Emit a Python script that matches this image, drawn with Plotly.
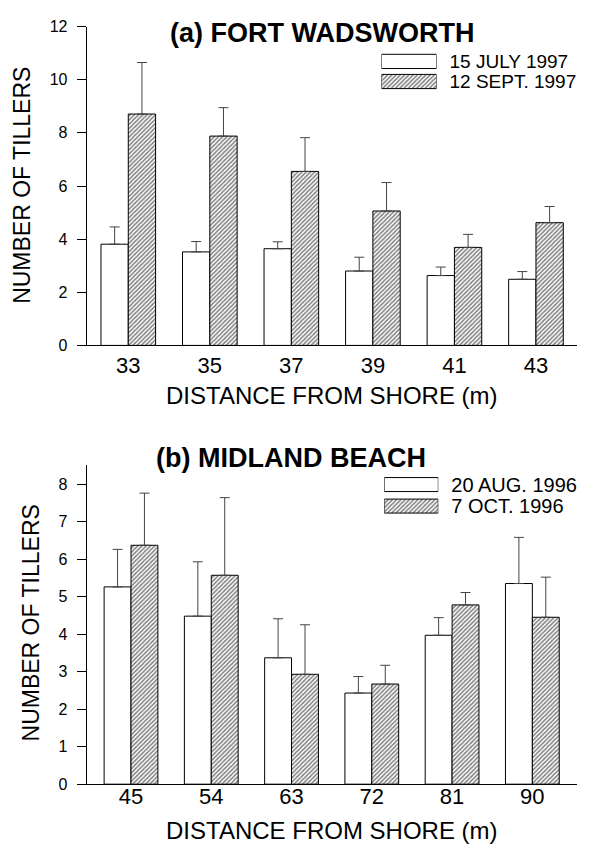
import plotly.graph_objects as go

# ---------------- data ----------------
dist_a = ["33", "35", "37", "39", "41", "43"]
jul_1997 = [3.81, 3.52, 3.64, 2.80, 2.63, 2.49]
jul_1997_upper = [4.46, 3.91, 3.90, 3.32, 2.95, 2.78]
sep_1997 = [8.71, 7.88, 6.55, 5.06, 3.69, 4.62]
sep_1997_upper = [10.65, 8.95, 7.82, 6.13, 4.18, 5.23]

dist_b = ["45", "54", "63", "72", "81", "90"]
aug_1996 = [5.26, 4.48, 3.37, 2.43, 3.97, 5.35]
aug_1996_upper = [6.26, 5.93, 4.41, 2.87, 4.44, 6.58]
oct_1996 = [6.37, 5.57, 2.93, 2.67, 4.78, 4.45]
oct_1996_upper = [7.76, 7.64, 4.25, 3.17, 5.11, 5.52]

legend_a = ["15 JULY 1997", "12 SEPT. 1997"]
legend_b = ["20 AUG. 1996", "7 OCT. 1996"]

yticks_a = [0, 2, 4, 6, 8, 10, 12]
yticks_b = [0, 1, 2, 3, 4, 5, 6, 7, 8]

# ---------------- styling ----------------
W, H = 598, 851
FONT = "Liberation Sans, Arial, sans-serif"

plain = dict(color="white", line=dict(color="black", width=1))
hatched = dict(color="white", line=dict(color="black", width=1),
               pattern=dict(shape="/", fgcolor="black", bgcolor="white",
                            size=3, solidity=0.5))


def err(vals, upper):
    return dict(type="data", symmetric=False,
                array=[u - v for u, v in zip(upper, vals)],
                arrayminus=[0] * len(vals),
                color="#444444", thickness=1, width=5)


def px_x(p):
    return p / W


def px_y(p):
    return 1 - p / H


fig = go.Figure()

# panel (a)
fig.add_trace(go.Bar(x=dist_a, y=jul_1997, marker=plain, name=legend_a[0],
                     error_y=err(jul_1997, jul_1997_upper), xaxis="x", yaxis="y"))
fig.add_trace(go.Bar(x=dist_a, y=sep_1997, marker=hatched, name=legend_a[1],
                     error_y=err(sep_1997, sep_1997_upper), xaxis="x", yaxis="y"))
# panel (b)
fig.add_trace(go.Bar(x=dist_b, y=aug_1996, marker=plain, name=legend_b[0],
                     error_y=err(aug_1996, aug_1996_upper), xaxis="x2", yaxis="y2"))
fig.add_trace(go.Bar(x=dist_b, y=oct_1996, marker=hatched, name=legend_b[1],
                     error_y=err(oct_1996, oct_1996_upper), xaxis="x2", yaxis="y2"))

# legend keys (horizontal bars on small unit axes; tick labels act as legend text)
for labels, xa, ya, bw in [(legend_a, "x3", "y3", 0.707), (legend_b, "x4", "y4", 0.65)]:
    fig.add_trace(go.Bar(y=[labels[0]], x=[1], orientation="h", marker=plain,
                         width=bw, xaxis=xa, yaxis=ya, hoverinfo="skip"))
    fig.add_trace(go.Bar(y=[labels[1]], x=[1], orientation="h", marker=hatched,
                         width=bw, xaxis=xa, yaxis=ya, hoverinfo="skip"))

dom_x = [px_x(86.7), px_x(577.3)]
xcommon = dict(showline=True, linecolor="black", linewidth=1, ticks="",
               showgrid=False, zeroline=False,
               tickfont=dict(size=22, color="black", family=FONT))
ycommon = dict(showline=True, linecolor="black", linewidth=1, ticks="outside",
               ticklen=9, tickcolor="black", showgrid=False, zeroline=False,
               tickfont=dict(size=16, color="black", family=FONT),
               ticklabelstandoff=6)

legx = dict(range=[0, 1], visible=False, fixedrange=True)
legy = dict(showline=False, showgrid=False, zeroline=False, ticks="",
            side="right", autorange="reversed", ticklabelstandoff=12)

fig.update_layout(
    width=W, height=H,
    margin=dict(l=0, r=0, t=0, b=0),
    paper_bgcolor="white", plot_bgcolor="white",
    barmode="group", bargap=0.33, bargroupgap=0,
    showlegend=False,
    font=dict(family=FONT, color="black"),
    xaxis=dict(domain=dom_x, range=[-0.51, 5.507], anchor="y", **xcommon),
    yaxis=dict(domain=[px_y(344.3), px_y(19)], range=[0, 12],
               tickvals=yticks_a, anchor="x", **ycommon),
    xaxis2=dict(domain=dom_x, range=[-0.552, 5.56], anchor="y2",
                ticklabelstandoff=-8, **xcommon),
    yaxis2=dict(domain=[px_y(792), px_y(466.7)], range=[0, 8.5],
                tickvals=yticks_b, anchor="x2", **ycommon),
    xaxis3=dict(domain=[px_x(381.5), px_x(436.5)], anchor="y3", **legx),
    yaxis3=dict(domain=[px_y(85.25), px_y(44.25)], anchor="x3",
                tickmode="array", tickvals=legend_a, ticktext=legend_a,
                tickfont=dict(size=19, color="black", family=FONT), **legy),
    xaxis4=dict(domain=[px_x(384.3), px_x(438.3)], anchor="y4", **legx),
    yaxis4=dict(domain=[px_y(519.2), px_y(475.3)], anchor="x4",
                tickmode="array", tickvals=legend_b, ticktext=legend_b,
                tickfont=dict(size=20, color="black", family=FONT), **legy),
)

ann = []
ann.append(dict(text="<b>(a) FORT WADSWORTH</b>", x=px_x(322), y=px_y(25),
                font=dict(size=27)))
ann.append(dict(text="<b>(b) MIDLAND BEACH</b>", x=px_x(290.5), y=px_y(459),
                font=dict(size=27)))
ann.append(dict(text="NUMBER OF TILLERS", x=px_x(22), y=px_y(181.5),
                textangle=-90, font=dict(size=23)))
ann.append(dict(text="NUMBER OF TILLERS", x=px_x(31), y=px_y(628),
                textangle=-90, font=dict(size=23)))
ann.append(dict(text="DISTANCE FROM SHORE (m)", x=px_x(331.5), y=px_y(395),
                font=dict(size=24)))
ann.append(dict(text="DISTANCE FROM SHORE (m)", x=px_x(331.5), y=px_y(839),
                font=dict(size=24)))
for a in ann:
    a.update(xref="paper", yref="paper", showarrow=False,
             xanchor="center", yanchor="middle")
    a["font"].update(family=FONT, color="black")
fig.update_layout(annotations=ann)

fig.write_html("out.html")
